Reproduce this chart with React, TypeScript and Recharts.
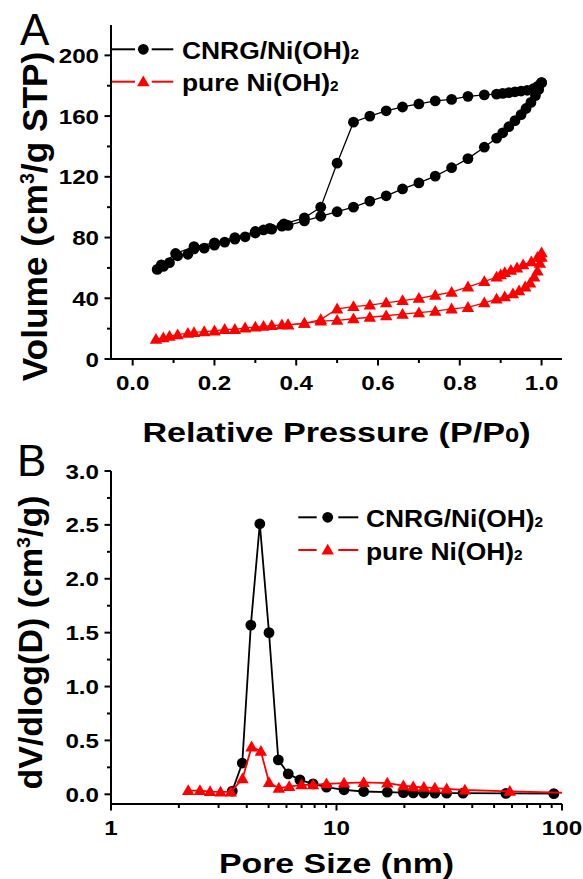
import React from 'react';
import { ScatterChart, Scatter, XAxis, YAxis, Legend } from 'recharts';

// Panel A – N2 sorption isotherms (relative pressure vs. adsorbed volume)
const cnrgAdsP = [0.06, 0.075, 0.09, 0.11, 0.135, 0.15, 0.175, 0.2, 0.225, 0.25, 0.275, 0.3, 0.32, 0.34, 0.365, 0.38, 0.42, 0.46, 0.5, 0.54, 0.58, 0.62, 0.66, 0.7, 0.74, 0.78, 0.82, 0.86, 0.89, 0.905, 0.92, 0.935, 0.95, 0.962, 0.974, 0.985, 0.993, 1.0];
const cnrgAdsV = [59, 61, 63.5, 68, 69, 72.5, 73, 75, 77, 79, 80.5, 83, 85, 85.5, 87.5, 88, 91, 94, 97, 100, 104, 107.5, 112, 116, 120.5, 126, 132, 139.5, 145.5, 149, 153, 157, 161, 165, 169, 173.5, 177.5, 182];
const cnrgDesP = [1.0, 0.99, 0.98, 0.965, 0.95, 0.935, 0.92, 0.905, 0.89, 0.86, 0.82, 0.78, 0.74, 0.7, 0.66, 0.62, 0.58, 0.54, 0.5, 0.46, 0.42, 0.37, 0.335, 0.3, 0.25, 0.2, 0.15, 0.105, 0.07];
const cnrgDesV = [182, 179.5, 178, 177, 176.5, 176, 175.5, 175, 174.5, 174, 173, 171, 170, 168, 166, 163.5, 160, 156, 129, 100, 93, 89, 86, 84, 80, 76.5, 74, 69.5, 62];
const niAdsP = [0.057, 0.075, 0.09, 0.11, 0.135, 0.15, 0.175, 0.2, 0.225, 0.25, 0.275, 0.3, 0.32, 0.34, 0.365, 0.38, 0.42, 0.46, 0.5, 0.54, 0.58, 0.62, 0.66, 0.7, 0.74, 0.78, 0.82, 0.86, 0.89, 0.91, 0.93, 0.945, 0.96, 0.972, 0.982, 0.99, 0.996, 1.0];
const niAdsV = [13, 14, 15, 16, 17, 17.5, 18, 18.5, 19.5, 19.5, 20.5, 21, 21.5, 22, 22.5, 22.5, 23.5, 25, 25.5, 26.5, 27.5, 28.5, 29.5, 30.5, 31.5, 33, 34, 37, 39.5, 41, 43, 45, 47.5, 50, 54, 58, 63, 67];
const niDesP = [1.0, 0.99, 0.975, 0.955, 0.94, 0.925, 0.91, 0.9, 0.89, 0.86, 0.82, 0.78, 0.74, 0.7, 0.66, 0.62, 0.58, 0.54, 0.5, 0.46, 0.42, 0.38];
const niDesV = [70, 67, 64, 62, 60, 58.5, 57, 55.5, 54, 51, 47.5, 44, 42, 40, 38.5, 37, 35.5, 34.5, 33, 26, 23.5, 22.5];

// Panel B – BJH pore size distribution
const poreCnrgD = [3.45, 3.82, 4.17, 4.57, 5.02, 5.52, 6.11, 6.88, 7.87, 9.03, 10.8, 13.2, 16.8, 19.8, 21.9, 24.4, 27.3, 30.8, 36.4, 56.4, 92];
const poreCnrgV = [0.03, 0.29, 1.57, 2.51, 1.5, 0.32, 0.19, 0.134, 0.097, 0.067, 0.042, 0.026, 0.02, 0.015, 0.013, 0.012, 0.011, 0.01, 0.01, 0.008, 0.006];
const poreNiD = [2.2, 2.48, 2.75, 3.06, 3.4, 3.83, 4.2, 4.62, 5.02, 5.55, 6.17, 7.0, 7.87, 9.03, 10.8, 13.2, 16.8, 19.8, 21.9, 24.4, 27.3, 30.8, 37.1, 58.7, 110];
const poreNiV = [0.035, 0.035, 0.025, 0.022, 0.022, 0.144, 0.44, 0.4, 0.11, 0.057, 0.072, 0.088, 0.088, 0.097, 0.104, 0.11, 0.104, 0.08, 0.07, 0.065, 0.058, 0.05, 0.04, 0.028, 0.012];

const seriesNames = ['CNRG/Ni(OH)2', 'pure Ni(OH)2'];

// axis ticks (major ones get labels)
const isoXTicks = [0, 0.1, 0.2, 0.3, 0.4, 0.5, 0.6, 0.7, 0.8, 0.9, 1.0];
const isoXMajor = [0, 0.2, 0.4, 0.6, 0.8, 1.0];
const isoYTicks = [0, 20, 40, 60, 80, 100, 120, 140, 160, 180, 200];
const isoYMajor = [0, 40, 80, 120, 160, 200];
const poreXTicks = [1, 2, 3, 4, 5, 6, 7, 8, 9, 10, 20, 30, 40, 50, 60, 70, 80, 90, 100];
const poreXMajor = [1, 10, 100];
const poreYTicks = [0, 0.25, 0.5, 0.75, 1.0, 1.25, 1.5, 1.75, 2.0, 2.25, 2.5, 2.75, 3.0];
const poreYMajor = [0, 0.5, 1.0, 1.5, 2.0, 2.5, 3.0];

const FONT = "Arial, 'Liberation Sans', sans-serif";
const RED = '#ff0000';

const toPts = (xs: number[], ys: number[]) => xs.map((x, i) => ({ x, y: ys[i] }));

function SText({ x, y, size, sx = 1, rotate = 0, anchor = 'middle', weight = 'bold', children }: any) {
  const t = `translate(${x},${y})${rotate ? ` rotate(${rotate})` : ''} scale(${sx},1)`;
  return (
    <text transform={t} textAnchor={anchor} fontSize={size} fontWeight={weight} fontFamily={FONT} fill="#000">
      {children}
    </text>
  );
}

const isMajor = (list: number[], v: number) => list.some((m) => Math.abs(m - v) < 1e-9);

const xTick = (majors: number[], fmt: (v: number) => string) => (p: any) => {
  const major = isMajor(majors, p.payload.value);
  return (
    <g>
      <line x1={p.x} x2={p.x} y1={p.y} y2={p.y + (major ? 6.5 : 4)} stroke="#000" strokeWidth={2} />
      {major && <SText x={p.x} y={p.y + 31} size={21} sx={1.15}>{fmt(p.payload.value)}</SText>}
    </g>
  );
};

const yTick = (majors: number[], fmt: (v: number) => string) => (p: any) => {
  const major = isMajor(majors, p.payload.value);
  return (
    <g>
      <line x1={p.x} x2={p.x - (major ? 6.5 : 4)} y1={p.y} y2={p.y} stroke="#000" strokeWidth={2} />
      {major && <SText x={p.x - 12} y={p.y + 7.5} size={21} sx={1.15} anchor="end">{fmt(p.payload.value)}</SText>}
    </g>
  );
};

function Marker({ kind, x, y, color }: any) {
  return kind === 'circle'
    ? <circle cx={x} cy={y} r={5.4} fill={color} />
    : <polygon points={`${x},${y - 6.3} ${x + 6.2},${y + 4.5} ${x - 6.2},${y + 4.5}`} fill={color} />;
}

const dot = (color: string) => (p: any) =>
  p.cx == null ? <g /> : <Marker kind="circle" x={p.cx} y={p.cy} color={color} />;

const tri = (color: string) => (p: any) =>
  p.cx == null ? <g /> : <Marker kind="triangle" x={p.cx} y={p.cy} color={color} />;

function Name({ label }: { label: string }) {
  return <>{label.slice(0, -1)}<tspan fontSize={14}>{label.slice(-1)}</tspan></>;
}

function LegendBox({ seg, mx, tx, ys }: any) {
  const rows = [
    { name: seriesNames[0], color: '#000', kind: 'circle' },
    { name: seriesNames[1], color: RED, kind: 'triangle' },
  ];
  return (
    <svg width={583} height={140} style={{ display: 'block' }}>
      {rows.map((r, i) => (
        <g key={r.name}>
          <line x1={seg[0]} x2={seg[1]} y1={ys[i]} y2={ys[i]} stroke={r.color} strokeWidth={2} />
          <line x1={seg[2]} x2={seg[3]} y1={ys[i]} y2={ys[i]} stroke={r.color} strokeWidth={2} />
          <Marker kind={r.kind} x={mx} y={ys[i]} color={r.color} />
          <SText x={tx} y={ys[i] + 9.6} size={24} sx={1.1} anchor="start"><Name label={r.name} /></SText>
        </g>
      ))}
    </svg>
  );
}

const isoXTitle = (p: any) => {
  const vb = p.viewBox;
  return (
    <SText x={vb.x + vb.width / 2} y={vb.y + 82.5} size={28} sx={1.22}>
      Relative Pressure (P/P<tspan fontSize={21}>0</tspan>)
    </SText>
  );
};

const isoYTitle = (p: any) => {
  const vb = p.viewBox;
  return (
    <SText x={vb.x + 46.5} y={vb.y + 191.5} size={36} sx={0.98} rotate={-90}>
      Volume (cm<tspan fontSize={20} dy={-13}>3</tspan><tspan dy={13}>/g STP)</tspan>
    </SText>
  );
};

const poreXTitle = (p: any) => {
  const vb = p.viewBox;
  return <SText x={vb.x + vb.width / 2} y={vb.y + 69} size={28} sx={1.21}>Pore Size (nm)</SText>;
};

const poreYTitle = (p: any) => {
  const vb = p.viewBox;
  return (
    <SText x={vb.x + 42} y={vb.y + 171.5} size={33} sx={1.03} rotate={-90}>
      dV/dlog(D) (cm<tspan fontSize={19} dy={-12}>3</tspan><tspan dy={12}>/g)</tspan>
    </SText>
  );
};

const frame = { stroke: '#000', strokeWidth: 2 };

function IsothermChart() {
  return (
    <ScatterChart width={583} height={452} margin={{ top: 25, right: 21, bottom: 33, left: 0 }}>
      <XAxis type="number" dataKey="x" domain={[-0.053, 1.05]} ticks={isoXTicks} interval={0}
        allowDataOverflow height={60} axisLine={frame} tickLine={false} tickSize={0} tickMargin={0}
        tick={xTick(isoXMajor, (v) => v.toFixed(1))} label={isoXTitle} />
      <YAxis type="number" dataKey="y" domain={[0, 220]} ticks={isoYTicks} interval={0}
        allowDataOverflow width={111} axisLine={frame} tickLine={false} tickSize={0} tickMargin={0}
        tick={yTick(isoYMajor, (v) => String(v))} label={isoYTitle} />
      <XAxis xAxisId="top" orientation="top" type="number" domain={[0, 1]} height={0}
        tick={false} tickLine={false} axisLine={frame} />
      <YAxis yAxisId="right" orientation="right" type="number" domain={[0, 1]} width={0}
        tick={false} tickLine={false} axisLine={frame} />
      <Legend verticalAlign="middle" align="center" layout="horizontal"
        wrapperStyle={{ left: 0, top: 0, width: 583, height: 140 }}
        content={() => <LegendBox seg={[111.7, 135, 151.7, 173.3]} mx={143.3} tx={182} ys={[49.3, 81.7]} />} />
      <Scatter name={seriesNames[1]} data={toPts(niAdsP, niAdsV)} line={{ stroke: RED, strokeWidth: 1.3 }}
        shape={tri(RED)} isAnimationActive={false} />
      <Scatter name={seriesNames[1]} data={toPts(niDesP, niDesV)} line={{ stroke: RED, strokeWidth: 1.3 }}
        shape={tri(RED)} isAnimationActive={false} legendType="none" />
      <Scatter name={seriesNames[0]} data={toPts(cnrgAdsP, cnrgAdsV)} line={{ stroke: '#000', strokeWidth: 1.3 }}
        shape={dot('#000')} isAnimationActive={false} />
      <Scatter name={seriesNames[0]} data={toPts(cnrgDesP, cnrgDesV)} line={{ stroke: '#000', strokeWidth: 1.3 }}
        shape={dot('#000')} isAnimationActive={false} legendType="none" />
    </ScatterChart>
  );
}

function PoreChart() {
  return (
    <ScatterChart width={583} height={439} margin={{ top: 31, right: 21, bottom: 15, left: 0 }}>
      <XAxis type="number" dataKey="x" scale="log" domain={[1, 100]} ticks={poreXTicks} interval={0}
        allowDataOverflow height={60} axisLine={frame} tickLine={false} tickSize={0} tickMargin={0}
        tick={xTick(poreXMajor, (v) => String(v))} label={poreXTitle} />
      <YAxis type="number" dataKey="y" domain={[-0.09, 3]} ticks={poreYTicks} interval={0}
        allowDataOverflow width={111} axisLine={frame} tickLine={false} tickSize={0} tickMargin={0}
        tick={yTick(poreYMajor, (v) => v.toFixed(1))} label={poreYTitle} />
      <XAxis xAxisId="top" orientation="top" type="number" domain={[0, 1]} height={0}
        tick={false} tickLine={false} axisLine={frame} />
      <YAxis yAxisId="right" orientation="right" type="number" domain={[0, 1]} width={0}
        tick={false} tickLine={false} axisLine={frame} />
      <Legend verticalAlign="middle" align="center" layout="horizontal"
        wrapperStyle={{ left: 0, top: 0, width: 583, height: 140 }}
        content={() => <LegendBox seg={[298.3, 316.7, 338.3, 358.3]} mx={327.7} tx={366} ys={[77.3, 110]} />} />
      <Scatter name={seriesNames[0]} data={toPts(poreCnrgD, poreCnrgV)} line={{ stroke: '#000', strokeWidth: 1.8 }}
        shape={dot('#000')} isAnimationActive={false} />
      <Scatter name={seriesNames[1]} data={toPts(poreNiD, poreNiV)} line={{ stroke: RED, strokeWidth: 1.8 }}
        shape={tri(RED)} isAnimationActive={false} />
    </ScatterChart>
  );
}

export default function App() {
  return (
    <div style={{ position: 'absolute', left: 0, top: 0, width: 583, height: 879, background: '#fff', overflow: 'hidden' }}>
      <div style={{ position: 'absolute', left: 0, top: 0 }}>
        <IsothermChart />
      </div>
      <div style={{ position: 'absolute', left: 0, top: 440 }}>
        <PoreChart />
      </div>
      <svg width={583} height={879} style={{ position: 'absolute', left: 0, top: 0, pointerEvents: 'none' }}>
        <SText x={20} y={45} size={44} weight="normal" anchor="start">A</SText>
        <SText x={17} y={476} size={44} weight="normal" anchor="start">B</SText>
      </svg>
    </div>
  );
}
